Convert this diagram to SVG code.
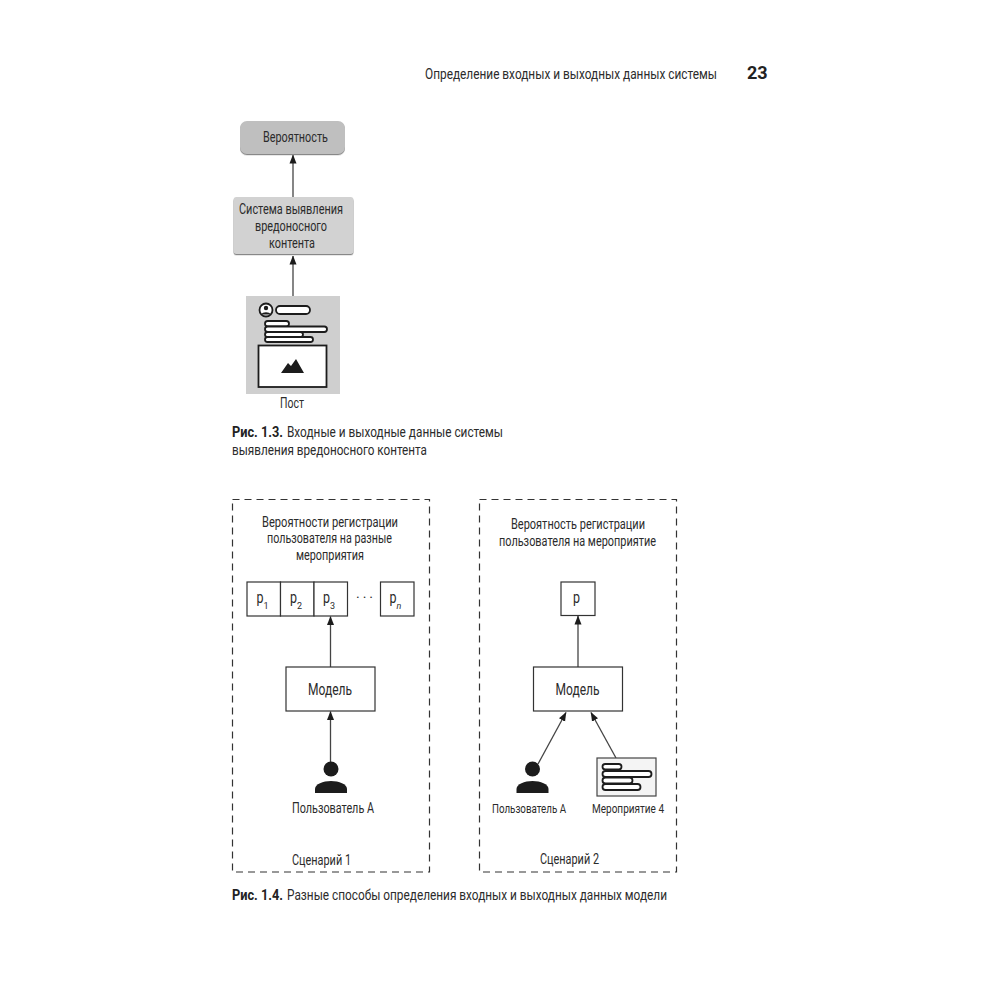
<svg xmlns="http://www.w3.org/2000/svg" width="1000" height="1000" viewBox="0 0 1000 1000">
<style>
text{font-family:"Roboto","Liberation Sans",sans-serif;font-size:14px;fill:#2b2b2b;text-anchor:start}
.h{font-size:15px}
.b{font-weight:700;fill:#222}
.big{font-size:18px;font-weight:700;fill:#222}
.cap{font-size:15px}
.small{font-size:13px}
.p{font-size:16px}
.sub{font-size:9px}
.box{fill:#fff;stroke:#333;stroke-width:1.2}
.dash{fill:none;stroke:#333;stroke-width:1.200;stroke-dasharray:7 5}
.conn{fill:none;stroke:#444;stroke-width:1.300;marker-end:url(#a)}
.pill{fill:#fff;stroke:#1c1c1c;stroke-width:1.800}
.ink{fill:#1c1c1c}
</style>
<defs>
<marker id="a" markerUnits="userSpaceOnUse" markerWidth="9" markerHeight="8" refX="8.500" refY="4" orient="auto"><path d="M0 0.500L9 4L0 7.500Z" fill="#1c1c1c"/></marker>
<filter id="s" x="-5%" y="-5%" width="110%" height="115%"><feDropShadow dx="0" dy="1.200" stdDeviation="0.700" flood-color="#888"/></filter>
<g id="person"><circle cx="0" cy="0" r="7.500" class="ink"/><path d="M-16 24V20C-16 15-8 12 0 12S16 15 16 20V24Z" class="ink"/></g>
</defs>

<g id="header">
<text class="h" x="425" y="79" textLength="292" lengthAdjust="spacingAndGlyphs">Определение входных и выходных данных системы</text>
<text class="big" x="747" y="79">23</text>
</g>

<g id="connectors">
<path class="conn" d="M293 197V155"/>
<path class="conn" d="M293 296V256"/>
<path class="conn" d="M330.500 667V616.500"/>
<path class="conn" d="M330.500 763V711.500"/>
<path class="conn" d="M578 667V616"/>
<path class="conn" d="M538 764L566 712.500"/>
<path class="conn" d="M616 758L591 712.500"/>
</g>

<g id="node-probability">
<rect x="240" y="121" width="105" height="33" rx="7" fill="#bfbfbf" filter="url(#s)"/>
<text x="263" y="142" textLength="65" lengthAdjust="spacingAndGlyphs">Вероятность</text>
</g>

<g id="node-system">
<rect x="233.500" y="197" width="120" height="57" rx="3" fill="#d2d2d2" filter="url(#s)"/>
<text x="239" y="214" textLength="104" lengthAdjust="spacingAndGlyphs">Система выявления</text>
<text x="255" y="231" textLength="72" lengthAdjust="spacingAndGlyphs">вредоносного</text>
<text x="269" y="248" textLength="46" lengthAdjust="spacingAndGlyphs">контента</text>
</g>

<g id="node-post">
<rect x="246" y="296" width="94" height="98" fill="#cfcfcf"/>
<circle cx="266" cy="310" r="6.500" fill="#fff" stroke="#1c1c1c" stroke-width="1.800"/>
<circle cx="266" cy="308" r="2.200" class="ink"/>
<path d="M261.500 314.500C262 311.500 270 311.500 270.500 314.500Z" class="ink"/>
<rect class="pill" x="276" y="306" width="34" height="8" rx="4"/>
<rect class="pill" x="265" y="321" width="24" height="5.500" rx="2.700"/>
<rect class="pill" x="265" y="326.500" width="62" height="5.500" rx="2.700"/>
<rect class="pill" x="265" y="332" width="38" height="5" rx="2.500"/>
<rect class="pill" x="265" y="337" width="48" height="5" rx="2.500"/>
<rect x="258.500" y="345.500" width="68" height="41.500" fill="#fff" stroke="#1c1c1c" stroke-width="1.800"/>
<path d="M281 373L288 363L291 366L296 359L304 373Z" class="ink"/>
<text x="280" y="408" textLength="24" lengthAdjust="spacingAndGlyphs">Пост</text>
</g>

<g id="caption-13">
<text class="cap b" x="232" y="437" textLength="51" lengthAdjust="spacingAndGlyphs">Рис. 1.3.</text>
<text class="cap" x="287" y="437" textLength="216" lengthAdjust="spacingAndGlyphs">Входные и выходные данные системы</text>
<text class="cap" x="232" y="455" textLength="195" lengthAdjust="spacingAndGlyphs">выявления вредоносного контента</text>
</g>

<g id="scenario-1">
<rect class="dash" x="232.500" y="499.500" width="197" height="372.500"/>
<text x="262" y="527" textLength="136" lengthAdjust="spacingAndGlyphs">Вероятности регистрации</text>
<text x="267" y="543" textLength="125" lengthAdjust="spacingAndGlyphs">пользователя на разные</text>
<text x="296" y="560" textLength="68" lengthAdjust="spacingAndGlyphs">мероприятия</text>
<text x="292" y="813" textLength="82" lengthAdjust="spacingAndGlyphs">Пользователь А</text>
<text x="292" y="865" textLength="59" lengthAdjust="spacingAndGlyphs">Сценарий 1</text>
</g>
<g id="node-p1"><rect class="box" x="247" y="582" width="33.500" height="34"/><text class="p" x="256.500" y="603" textLength="7" lengthAdjust="spacingAndGlyphs">p</text><text class="sub" x="263.500" y="609">1</text></g>
<g id="node-p2"><rect class="box" x="280.500" y="582" width="33.500" height="34"/><text class="p" x="290" y="603" textLength="7" lengthAdjust="spacingAndGlyphs">p</text><text class="sub" x="297" y="609">2</text></g>
<g id="node-p3"><rect class="box" x="314" y="582" width="33.500" height="34"/><text class="p" x="323" y="603" textLength="7" lengthAdjust="spacingAndGlyphs">p</text><text class="sub" x="330" y="609">3</text></g>
<g id="ellipsis"><text x="356" y="603" textLength="17">···</text></g>
<g id="node-pn"><rect class="box" x="380.500" y="582" width="33.500" height="34"/><text class="p" x="389.500" y="603" textLength="7" lengthAdjust="spacingAndGlyphs">p</text><text class="sub" x="396.500" y="609" style="font-style:italic">n</text></g>
<g id="node-model-1"><rect class="box" x="286" y="667" width="89" height="44"/><text class="p" x="308" y="695" textLength="44" lengthAdjust="spacingAndGlyphs">Модель</text></g>
<g id="node-user-1"><use href="#person" x="331" y="769"/></g>

<g id="scenario-2">
<rect class="dash" x="479.500" y="499.500" width="197" height="372.500"/>
<text x="511" y="529" textLength="134" lengthAdjust="spacingAndGlyphs">Вероятность регистрации</text>
<text x="499" y="546" textLength="157" lengthAdjust="spacingAndGlyphs">пользователя на мероприятие</text>
<text class="small" x="492" y="813" textLength="74" lengthAdjust="spacingAndGlyphs">Пользователь А</text>
<text class="small" x="592" y="813" textLength="72" lengthAdjust="spacingAndGlyphs">Мероприятие 4</text>
<text x="540" y="864" textLength="59" lengthAdjust="spacingAndGlyphs">Сценарий 2</text>
</g>
<g id="node-p"><rect class="box" x="561" y="582" width="34" height="33.500"/><text class="p" x="573" y="603" textLength="7" lengthAdjust="spacingAndGlyphs">p</text></g>
<g id="node-model-2"><rect class="box" x="533.500" y="667" width="89" height="44"/><text class="p" x="555.500" y="695" textLength="44" lengthAdjust="spacingAndGlyphs">Модель</text></g>
<g id="node-user-2"><use href="#person" x="532.500" y="769"/></g>
<g id="node-event">
<rect x="597" y="758" width="59" height="38" fill="#f4f4f4" stroke="#444" stroke-width="1.200"/>
<rect class="pill" x="602.500" y="764" width="19" height="5.500" rx="2.700"/>
<rect class="pill" x="602.500" y="771" width="49" height="6" rx="3"/>
<rect class="pill" x="602.500" y="777.500" width="30" height="6" rx="3"/>
<rect class="pill" x="602.500" y="784" width="38" height="6" rx="3"/>
</g>

<g id="caption-14">
<text class="cap b" x="232" y="900" textLength="51" lengthAdjust="spacingAndGlyphs">Рис. 1.4.</text>
<text class="cap" x="287" y="900" textLength="380" lengthAdjust="spacingAndGlyphs">Разные способы определения входных и выходных данных модели</text>
</g>
</svg>
